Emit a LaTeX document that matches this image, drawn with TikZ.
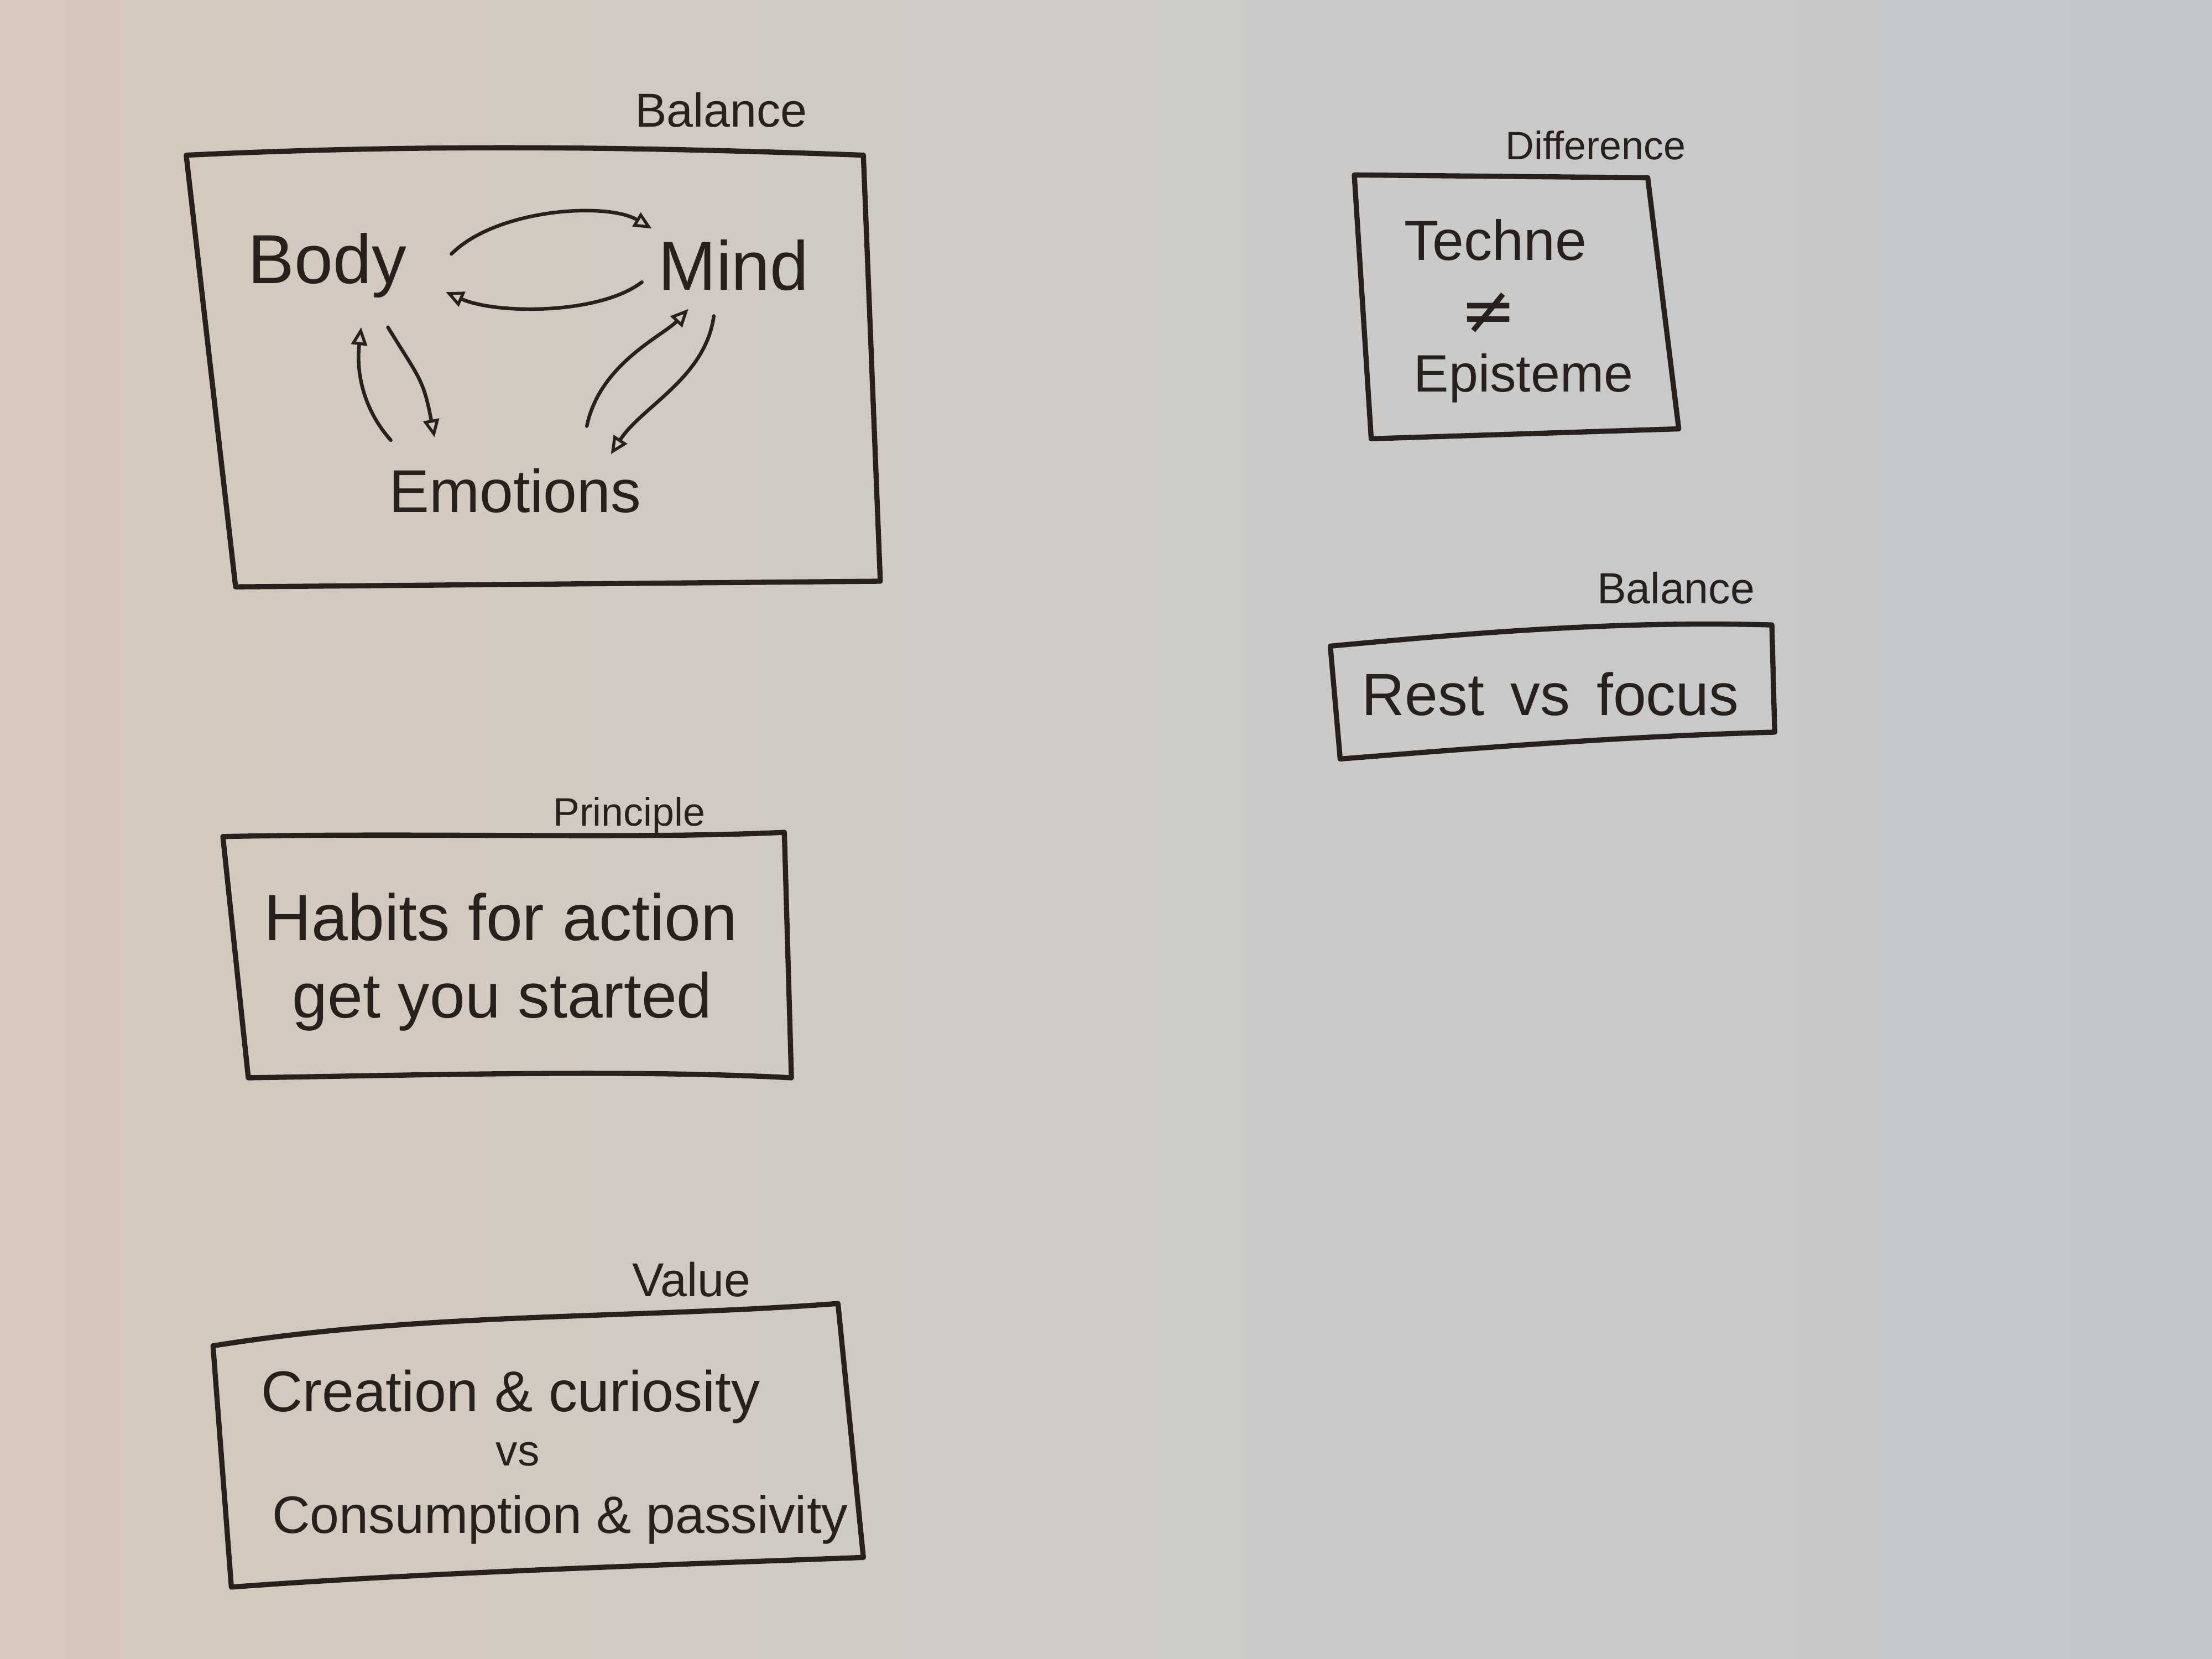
\documentclass[tikz,border=0pt]{standalone}
\usepackage{fontspec}
\setmainfont{Liberation Sans}
\newfontfamily\symfont{DejaVu Sans}
\usetikzlibrary{arrows.meta,calc}
\definecolor{ink}{RGB}{40,32,28}
\definecolor{paperL}{RGB}{214,200,186}
\definecolor{paperM}{RGB}{206,203,200}
\definecolor{paperR}{RGB}{194,199,203}
\newcommand{\fs}[1]{\fontsize{#1}{#1}\selectfont}
\tikzset{
  frame/.style={draw=ink,line width=2.6pt,line join=round,line cap=round},
  tag/.style={text=ink,font=\fs{20},inner sep=0pt},
  word/.style={text=ink,font=\fs{32},inner sep=0pt},
  link/.style={draw=ink,line width=1.8pt,line cap=round,-{Triangle[open,length=9pt,width=8pt,line width=1.5pt]}}
}
\begin{document}
\begin{tikzpicture}[x=0.025cm,y=-0.025cm]
\useasboundingbox (0,0) rectangle (1568,1176);
\shade[left color=paperL,right color=paperR,middle color=paperM] (0,0) rectangle (1568,1176);

% Box 1: Body / Mind / Emotions
\draw[frame] (132,110) .. controls (300,102) and (450,104) .. (612,110) -- (624,412) -- (167,416) -- cycle;
\node[tag,font=\fs{24}] (bal1) at (511,78) {Balance};
\node[word,font=\fs{35}] (body) at (232,188) {Body};
\node[word,font=\fs{35}] (mind) at (520,188) {Mind};
\node[word,font=\fs{30.5}] (emo) at (365,348) {Emotions};
\draw[link] ([shift={(88,-8)}]body.center) .. controls ([shift={(120,-40)}]body.center) and ([shift={(-90,-45)}]mind.center) .. ([shift={(-58,-26)}]mind.center);
\draw[link] ([shift={(-65,12)}]mind.center) .. controls ([shift={(-95,35)}]mind.center) and ([shift={(120,35)}]body.center) .. ([shift={(84,19)}]body.center);
\draw[link] ([shift={(43,44)}]body.center) .. controls ([shift={(65,80)}]body.center) and ([shift={(-65,-80)}]emo.center) .. ([shift={(-57,-38)}]emo.center);
\draw[link] ([shift={(-88,-36)}]emo.center) .. controls ([shift={(-105,-55)}]emo.center) and ([shift={(20,80)}]body.center) .. ([shift={(24,44)}]body.center);
\draw[link] ([shift={(-14,36)}]mind.center) .. controls ([shift={(-20,80)}]mind.center) and ([shift={(90,-60)}]emo.center) .. ([shift={(68,-26)}]emo.center);
\draw[link] ([shift={(51,-46)}]emo.center) .. controls ([shift={(60,-90)}]emo.center) and ([shift={(-50,50)}]mind.center) .. ([shift={(-32,31)}]mind.center);

% Box 2: Techne / Episteme
\draw[frame] (960,124) -- (1168,126) -- (1190,304) -- (972,311) -- cycle;
\node[tag] (diff) at (1131,103) {Difference};
\node[word,font=\fs{28.5}] (techne) at (1060,170) {Techne};
\node[word,font=\symfont\fs{34}] (neq) at (1055,222) {≠};
\node[word,font=\fs{26.5}] (episteme) at (1080,268) {Episteme};

% Box 3: Rest vs focus
\draw[frame] (943,458) .. controls (1050,448) and (1150,440) .. (1256,443) -- (1258,519) .. controls (1150,522) and (1050,530) .. (950,538) -- cycle;
\node[tag,font=\fs{22}] (bal2) at (1188,417) {Balance};
\node[word,font=\fs{30}] (rest) at (1099,492) {Rest\, vs\, focus};

% Box 4: Habits
\draw[frame] (158,593) .. controls (300,590) and (450,595) .. (556,590) -- (561,764) .. controls (450,758) and (300,762) .. (176,764) -- cycle;
\node[tag] (princ) at (446,578) {Principle};
\node[word,font=\fs{33}] (hab1) at (355,650) {Habits for action};
\node[word,font=\fs{32}] (hab2) at (356,710) {get you started};

% Box 5: Creation vs Consumption
\draw[frame] (151,954) .. controls (300,930) and (450,935) .. (594,924) -- (612,1104) .. controls (450,1110) and (300,1115) .. (164,1125) -- cycle;
\node[tag,font=\fs{24}] (val) at (490,907) {Value};
\node[word,font=\fs{29}] (cre) at (362,990) {Creation \& curiosity};
\node[word,font=\fs{22}] (vs) at (367,1031) {vs};
\node[word,font=\fs{26.5}] (con) at (397,1077) {Consumption \& passivity};
\end{tikzpicture}
\end{document}
